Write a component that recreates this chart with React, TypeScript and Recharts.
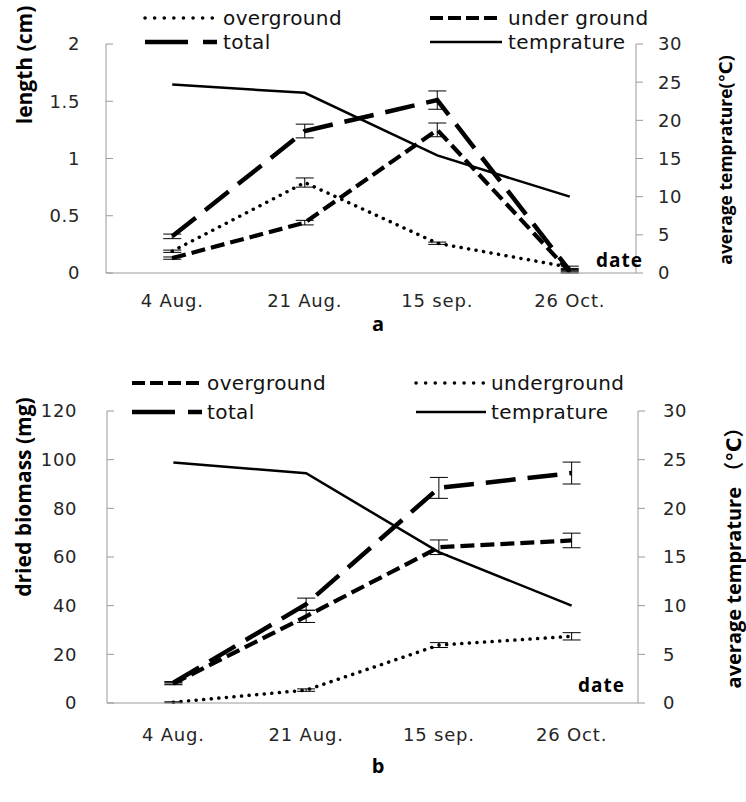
import React from 'react';
import { ComposedChart, Line, XAxis, YAxis, Legend, ErrorBar } from 'recharts';

const dates = ['4 Aug.', '21 Aug.', '15 sep.', '26 Oct.'];

// panel a: length (cm) + temperature
const lenOver = [0.19, 0.79, 0.26, 0.05];
const lenOverErr = [0.01, 0.04, 0.01, 0.01];
const lenUnder = [0.13, 0.44, 1.25, 0.01];
const lenUnderErr = [0.01, 0.02, 0.06, 0.01];
const lenTotal = [0.32, 1.24, 1.51, 0.02];
const lenTotalErr = [0.02, 0.06, 0.08, 0.01];
const tempA = [24.7, 23.6, 15.4, 10.0];
const lenTicks = [0, 0.5, 1, 1.5, 2];

// panel b: dried biomass (mg) + temperature
const bioOver = [8.0, 35.6, 64.0, 66.8];
const bioOverErr = [0.5, 2.5, 3, 3];
const bioUnder = [0.3, 5.3, 23.8, 27.4];
const bioUnderErr = [0.2, 0.5, 1, 1.5];
const bioTotal = [8.3, 40.6, 88.4, 94.5];
const bioTotalErr = [0.5, 2.5, 4.3, 4.5];
const tempB = [24.7, 23.6, 15.5, 10.0];
const bioTicks = [0, 20, 40, 60, 80, 100, 120];

const tempTicks = [0, 5, 10, 15, 20, 25, 30];

const dataA = dates.map((d, i) => ({
  date: d,
  over: lenOver[i],
  overErr: lenOverErr[i],
  under: lenUnder[i],
  underErr: lenUnderErr[i],
  total: lenTotal[i],
  totalErr: lenTotalErr[i],
  temp: tempA[i],
}));

const dataB = dates.map((d, i) => ({
  date: d,
  over: bioOver[i],
  overErr: bioOverErr[i],
  under: bioUnder[i],
  underErr: bioUnderErr[i],
  total: bioTotal[i],
  totalErr: bioTotalErr[i],
  temp: tempB[i],
}));

const font = "'Open Sans', 'DejaVu Sans', 'Noto Sans CJK SC', sans-serif";
const wide = "'DejaVu Sans', sans-serif";
const gray = '#9a9a9a';
const ink = '#262626';

const dotted = { dash: '0.1 7.5', width: 3.5, cap: 'round' };
const dashed = { dash: '14 6', width: 4.2, cap: 'butt' };
const longDash = { dash: '30 12', width: 4.5, cap: 'butt' };
const solid = { dash: undefined, width: 2.5, cap: 'butt' };

const XTick = (props: any) => {
  const { x, y, payload } = props;
  return (
    <text x={x} y={y} dy="0.71em" textAnchor="middle" fontSize={18} fontFamily={wide} fill={ink} letterSpacing={0.8}>
      {payload.value}
    </text>
  );
};

const LeftTick = (props: any) => {
  const { x, y, payload, gap } = props;
  return (
    <g>
      <line x1={x + gap} x2={x + gap + 7} y1={y} y2={y} stroke={gray} />
      <text x={x} y={y} dy="0.36em" textAnchor="end" fontSize={18} fontFamily={wide} fill={ink} letterSpacing={0.6}>
        {payload.value}
      </text>
    </g>
  );
};

const RightTick = (props: any) => {
  const { x, y, payload } = props;
  return (
    <text x={x} y={y} dy="0.36em" textAnchor="start" fontSize={18} fontFamily={wide} fill={ink} letterSpacing={0.6}>
      {payload.value}
    </text>
  );
};

const LegendBox = ({ items, x0, x1, y0, y1, lineLen, textGap }: any) => (
  <svg width={746} height={70}>
    {items.map((it: any, i: number) => {
      const lx = i % 2 ? x1 : x0;
      const ly = i < 2 ? y0 : y1;
      return (
        <g key={it.name}>
          <line
            x1={lx}
            x2={lx + lineLen}
            y1={ly}
            y2={ly}
            stroke="#000"
            strokeWidth={it.style.width}
            strokeDasharray={it.legendDash || it.style.dash}
            strokeLinecap={it.style.cap}
          />
          <text x={lx + textGap} y={ly} dy="0.36em" fontSize={20} fontFamily={wide} fill="#111" letterSpacing={0.4}>
            {it.name}
          </text>
        </g>
      );
    })}
  </svg>
);

const Panel = ({ data, height, margin, leftDomain, leftTicks, leftGap, rightMargin, xMargin, styles, legend }: any) => (
  <ComposedChart width={746} height={height} data={data} margin={margin}>
    <XAxis
      dataKey="date"
      scale="band"
      interval={0}
      height={40}
      axisLine={{ stroke: gray }}
      tickLine={false}
      tickSize={0}
      tickMargin={xMargin}
      tick={<XTick />}
    />
    <YAxis
      yAxisId="left"
      width={80}
      domain={leftDomain}
      ticks={leftTicks}
      axisLine={{ stroke: gray }}
      tickLine={false}
      tickSize={0}
      tickMargin={leftGap}
      tick={<LeftTick gap={leftGap} />}
    />
    <YAxis
      yAxisId="right"
      orientation="right"
      width={80}
      domain={[0, 30]}
      ticks={tempTicks}
      axisLine={{ stroke: gray }}
      tickLine={{ stroke: gray }}
      tickSize={7}
      tickMargin={rightMargin}
      tick={<RightTick />}
    />
    <Legend
      verticalAlign="middle"
      align="center"
      layout="horizontal"
      wrapperStyle={{ top: 0, left: 0, width: 746, height: 70 }}
      content={() => <LegendBox {...legend} />}
    />
    <Line
      yAxisId="right"
      dataKey="temp"
      stroke="#000"
      strokeWidth={solid.width}
      dot={false}
      activeDot={false}
      isAnimationActive={false}
    />
    <Line
      yAxisId="left"
      dataKey="under"
      stroke="#000"
      strokeWidth={styles.under.width}
      strokeDasharray={styles.under.dash}
      strokeLinecap={styles.under.cap}
      dot={false}
      activeDot={false}
      isAnimationActive={false}
    >
      <ErrorBar dataKey="underErr" width={9} stroke="#000" strokeWidth={1} direction="y" isAnimationActive={false} />
    </Line>
    <Line
      yAxisId="left"
      dataKey="over"
      stroke="#000"
      strokeWidth={styles.over.width}
      strokeDasharray={styles.over.dash}
      strokeLinecap={styles.over.cap}
      dot={false}
      activeDot={false}
      isAnimationActive={false}
    >
      <ErrorBar dataKey="overErr" width={9} stroke="#000" strokeWidth={1} direction="y" isAnimationActive={false} />
    </Line>
    <Line
      yAxisId="left"
      dataKey="total"
      stroke="#000"
      strokeWidth={longDash.width}
      strokeDasharray={longDash.dash}
      dot={false}
      activeDot={false}
      isAnimationActive={false}
    >
      <ErrorBar dataKey="totalErr" width={9} stroke="#000" strokeWidth={1} direction="y" isAnimationActive={false} />
    </Line>
  </ComposedChart>
);

const titleStyle = { fontFamily: font, fontWeight: 700, fill: '#000' } as any;

export default function App() {
  return (
    <div style={{ position: 'absolute', left: 0, top: 0, width: 746, height: 802, background: '#fff', overflow: 'hidden' }}>
      <div style={{ position: 'absolute', left: 0, top: 0 }}>
        <Panel
          data={dataA}
          height={330}
          margin={{ top: 44, right: 30, left: 26, bottom: 17 }}
          leftDomain={[0, 2]}
          leftTicks={lenTicks}
          leftGap={26}
          rightMargin={15}
          xMargin={21}
          styles={{ over: dotted, under: dashed }}
          legend={{
            x0: 145,
            x1: 430,
            y0: 18,
            y1: 42,
            lineLen: 72,
            textGap: 78,
            items: [
              { name: 'overground', style: dotted, legendDash: '0.1 9.5' },
              { name: 'under ground', style: dashed, legendDash: '13 5' },
              { name: 'total', style: longDash, legendDash: '43 15' },
              { name: 'temprature', style: solid },
            ],
          }}
        />
      </div>
      <div style={{ position: 'absolute', left: 0, top: 360 }}>
        <Panel
          data={dataB}
          height={442}
          margin={{ top: 51, right: 28, left: 27, bottom: 59 }}
          leftDomain={[0, 120]}
          leftTicks={bioTicks}
          leftGap={30}
          rightMargin={18}
          xMargin={25}
          styles={{ over: dashed, under: dotted }}
          legend={{
            x0: 132,
            x1: 416,
            y0: 23,
            y1: 52,
            lineLen: 70,
            textGap: 75,
            items: [
              { name: 'overground', style: dashed, legendDash: '13 5' },
              { name: 'underground', style: dotted, legendDash: '0.1 9.5' },
              { name: 'total', style: longDash, legendDash: '43 13' },
              { name: 'temprature', style: solid },
            ],
          }}
        />
      </div>
      <svg width={746} height={802} style={{ position: 'absolute', left: 0, top: 0, pointerEvents: 'none' }}>
        <text transform="translate(25,65) rotate(-90)" textAnchor="middle" dy="0.35em" fontSize={21} {...titleStyle}>
          length (cm)
        </text>
        <text transform="translate(726,160) rotate(-90)" textAnchor="middle" dy="0.35em" fontSize={17.5} {...titleStyle}>
          average temprature(℃)
        </text>
        <text x={643} y={267} textAnchor="end" fontSize={19} letterSpacing={1} {...titleStyle}>
          date
        </text>
        <text x={378} y={331} textAnchor="middle" fontSize={20} {...titleStyle}>
          a
        </text>
        <text transform="translate(24,497) rotate(-90)" textAnchor="middle" dy="0.35em" fontSize={21} {...titleStyle}>
          dried biomass (mg)
        </text>
        <text transform="translate(734,553) rotate(-90)" textAnchor="middle" dy="0.35em" fontSize={20} {...titleStyle}>
          average temprature （℃）
        </text>
        <text x={625} y={692} textAnchor="end" fontSize={19} letterSpacing={1} {...titleStyle}>
          date
        </text>
        <text x={378} y={773} textAnchor="middle" fontSize={20} {...titleStyle}>
          b
        </text>
      </svg>
    </div>
  );
}
